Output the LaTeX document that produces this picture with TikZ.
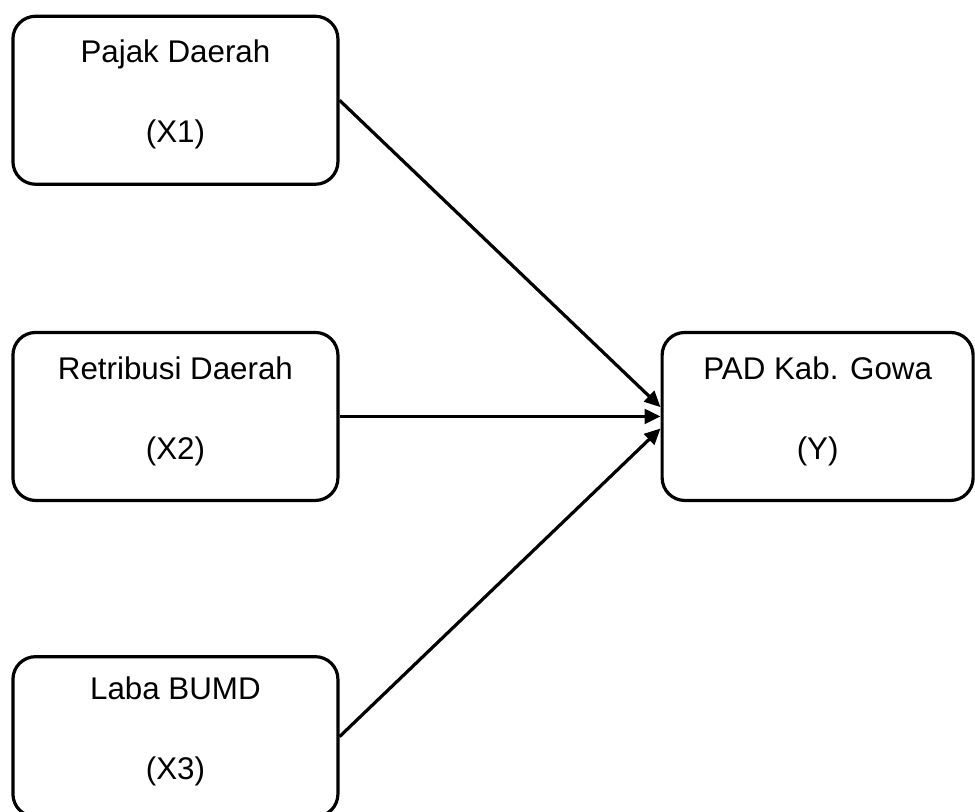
\documentclass[tikz,border=0pt]{standalone}
\usepackage{fontspec}
\setmainfont{Liberation Sans}
\usetikzlibrary{positioning, arrows.meta}

\begin{document}
\begin{tikzpicture}[
    node distance=108.75pt and 240.75pt,
    var/.style={rectangle, draw=black, line width=2.4pt, rounded corners=17pt, minimum height=126pt, minimum width=243.75pt, align=center, text depth=13pt, font=\fontsize{23.5}{60}\selectfont},
    arrow/.style={-{Triangle[length=12pt, width=11pt]}, line width=2.4pt}
  ]
    \useasboundingbox (0,0) rectangle (731.25pt,-609pt);

    % Nodes
    \node[var, anchor=north west] (x1) at (8.5pt,-11pt) {Pajak Daerah\\(X1)};
    \node[var, below=of x1] (x2) {Retribusi Daerah\\(X2)};
    \node[var, below=114.75pt of x2, minimum height=120pt] (x3) {Laba BUMD\\(X3)};
    \node[var, right=of x2, minimum width=233.25pt] (y) {PAD Kab. Gowa\\(Y)};

    % Arrows
    \draw[arrow] (x1.east) -- ([yshift=7pt]y.west);
    \draw[arrow] (x2) -- (y);
    \draw[arrow] (x3.east) -- ([yshift=-9pt]y.west);
  \end{tikzpicture}
\end{document}
